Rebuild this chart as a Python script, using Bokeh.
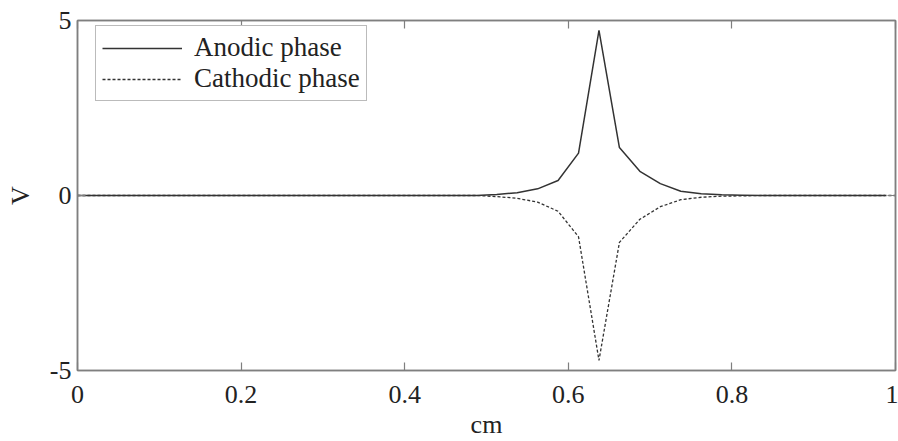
from bokeh.plotting import figure
from bokeh.models import Range1d, LinearAxis, FixedTicker, Legend, LegendItem, CustomLabelingPolicy
from bokeh.embed import file_html
from bokeh.resources import INLINE

# data
x_anodic = [0.0, 0.4875, 0.5125, 0.5375, 0.5625, 0.5875, 0.6125, 0.6375, 0.6625,
            0.6875, 0.7125, 0.7375, 0.7625, 0.7875, 0.8125, 0.8375, 0.9875]
v_anodic = [0.0, 0.0, 0.03, 0.08, 0.19, 0.43, 1.21, 4.72, 1.37,
            0.69, 0.34, 0.12, 0.05, 0.02, 0.01, 0.0, 0.0]
x_cathodic = [0.0, 0.4875, 0.5125, 0.5375, 0.5625, 0.5875, 0.6125, 0.6375, 0.6625,
              0.6875, 0.7125, 0.7375, 0.7625, 0.7875, 0.8125, 0.8375, 1.0]
v_cathodic = [0.0, 0.0, -0.03, -0.08, -0.19, -0.45, -1.18, -4.71, -1.34,
              -0.68, -0.32, -0.12, -0.05, -0.02, -0.01, 0.0, 0.0]
x_ticks = [0, 0.2, 0.4, 0.6, 0.8, 1]
y_ticks = [-5, 0, 5]
y_tick_labels = ["-5", "0", "5"]
x_label = "cm"
y_label = "V"
names = ["Anodic phase", "Cathodic phase"]

FONT = "Liberation Serif"
FS = "26px"
AX = "#7f7f7f"

p = figure(width=898, height=441, output_backend="svg", toolbar_location=None,
           x_range=Range1d(0, 1), y_range=Range1d(-5, 5),
           min_border_left=77, min_border_right=3, min_border_top=20, min_border_bottom=70)
p.grid.visible = False
p.outline_line_color = AX
p.outline_line_width = 1.5
p.background_fill_color = "white"
p.border_fill_color = "white"

r_c = p.line(x_cathodic, v_cathodic, line_color="#333333", line_width=1.3, line_dash="3 2")
r_a = p.line(x_anodic, v_anodic, line_color="#333333", line_width=1.5)

no_labels = CustomLabelingPolicy(code="""
try {
  const idx = [...indices]
  for (const i of idx) indices.set(i, false)
  return indices
} catch (e) {
  return new Set()
}
""")

def style(ax, ticks, show_labels=True):
    ax.ticker = FixedTicker(ticks=ticks)
    ax.axis_line_color = AX
    ax.axis_line_width = 1.5
    ax.major_tick_line_color = AX
    ax.major_tick_line_width = 1.2
    ax.major_tick_in = 8
    ax.major_tick_out = 0
    ax.minor_tick_line_color = None
    ax.major_label_text_font = FONT
    ax.major_label_text_color = "#222222"
    ax.major_label_text_font_size = FS
    ax.axis_label_text_font = FONT
    ax.axis_label_text_font_size = FS
    ax.axis_label_text_font_style = "normal"
    ax.axis_label_text_color = "#222222"
    if not show_labels:
        ax.major_label_policy = no_labels
        ax.major_label_text_font_size = "0px"
        ax.major_label_standoff = 0

xa = p.xaxis[0]
style(xa, x_ticks)
xa.axis_label = x_label
xa.major_label_standoff = 15
xa.axis_label_standoff = 4
xa.major_label_overrides = {0: "0", 1: "1"}

ya = p.yaxis[0]
style(ya, y_ticks)
ya.axis_label = y_label
ya.major_label_standoff = 6
ya.axis_label_standoff = 12
ya.major_label_overrides = dict(zip(y_ticks, y_tick_labels))

top = LinearAxis()
style(top, x_ticks, False)
p.add_layout(top, "above")
right = LinearAxis()
style(right, y_ticks, False)
p.add_layout(right, "right")

legend = Legend(items=[LegendItem(label=names[0], renderers=[r_a]),
                       LegendItem(label=names[1], renderers=[r_c])],
                location=(18, 269))
legend.label_text_font = FONT
legend.label_text_font_size = "27px"
legend.label_text_color = "#222222"
legend.glyph_width = 80
legend.glyph_height = 26
legend.label_height = 26
legend.label_standoff = 12
legend.spacing = 0
legend.padding = 6
legend.margin = 0
legend.border_line_color = "#777777"
legend.border_line_width = 1.2
legend.background_fill_alpha = 1
p.add_layout(legend, "center")

open("out.html", "w").write(file_html(p, INLINE))
